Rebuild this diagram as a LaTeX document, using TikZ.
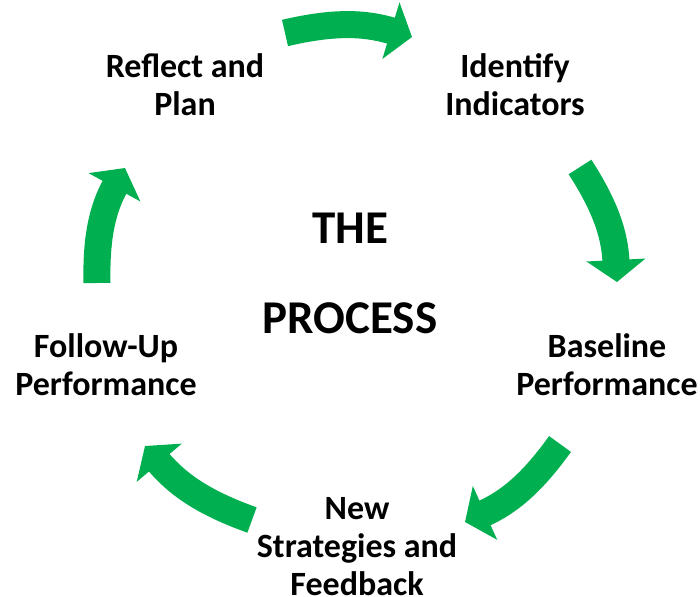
\documentclass[tikz,border=0pt]{standalone}
\usepackage{fontspec}
\setmainfont{Carlito}
\usetikzlibrary{arrows.meta}
\definecolor{cyclegreen}{RGB}{0,176,80}

\begin{document}
\begin{tikzpicture}[
        x=0.5pt, y=-0.5pt,
        step label/.style={font=\fontsize{17}{19}\selectfont\bfseries, align=center, inner sep=0pt},
        title label/.style={font=\fontsize{23.5}{27}\selectfont\bfseries, inner sep=0pt},
        cycle arrow/.style={cyclegreen, line width=13.5pt, -{Triangle[width=29pt, length=11pt]}, bend left=15},
    ]
        \useasboundingbox (0,0) rectangle (700,597);

        %Nodes
        \node[step label] (reflect) at (185,85) {Reflect and\\Plan};
        \node[step label] (identify) at (515,85) {Identify\\Indicators};
        \node[step label] (baseline) at (607,365) {Baseline\\Performance};
        \node[step label] (strategies) at (357,547) {New\\Strategies and\\Feedback};
        \node[step label] (followup) at (106,365) {Follow-Up\\Performance};

        \node[title label] (the) at (350,228) {THE};
        \node[title label] (process) at (350,318) {PROCESS};

        %Arrow ends
        \coordinate (a1s) at (285,33);
        \coordinate (a1e) at (412,37);
        \coordinate (a2s) at (580,167);
        \coordinate (a2e) at (617,282);
        \coordinate (a3s) at (560,444);
        \coordinate (a3e) at (465,522);
        \coordinate (a4s) at (252,520);
        \coordinate (a4e) at (145,446);
        \coordinate (a5s) at (97,283);
        \coordinate (a5e) at (125,168);

        %Arrows
        \draw[cycle arrow] (a1s) to (a1e);
        \draw[cycle arrow] (a2s) to (a2e);
        \draw[cycle arrow] (a3s) to (a3e);
        \draw[cycle arrow] (a4s) to (a4e);
        \draw[cycle arrow] (a5s) to (a5e);
    \end{tikzpicture}
\end{document}
